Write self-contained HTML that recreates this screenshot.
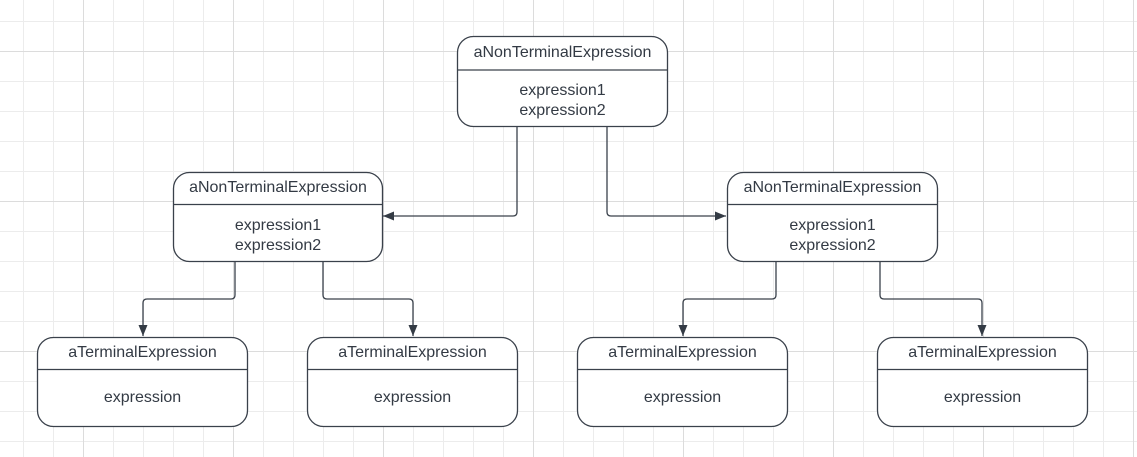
<!DOCTYPE html>
<html><head><meta charset="utf-8"><style>
html,body{margin:0;padding:0;background:#fff;}
svg{display:block;}
text{font-family:"Liberation Sans",sans-serif;font-size:16px;fill:#333a44;text-anchor:middle;}
</style></head><body>
<svg width="1137" height="457" viewBox="0 0 1137 457" xmlns="http://www.w3.org/2000/svg">
<defs>
<pattern id="g" x="23" y="21" width="30" height="30" patternUnits="userSpaceOnUse">
<path d="M0.5 0V30M0 0.5H30" stroke="#ececec" stroke-width="1" fill="none"/>
</pattern>
<pattern id="G" x="83" y="51" width="150" height="150" patternUnits="userSpaceOnUse">
<path d="M0.5 0V150M0 0.5H150" stroke="#dcdcdc" stroke-width="1" fill="none"/>
</pattern>
<marker id="a" markerWidth="12" markerHeight="12" refX="11" refY="6" orient="auto" markerUnits="userSpaceOnUse">
<path d="M0 1.5L11 6L0 10.5Z" fill="#343b45"/>
</marker>
</defs>
<rect width="1137" height="457" fill="url(#g)"/>
<rect width="1137" height="457" fill="url(#G)"/>
<g fill="none" stroke="#3a414b" stroke-width="1.3">
<path d="M517 127V212q0 4-4 4H383" marker-end="url(#a)"/>
<path d="M607 127V212q0 4 4 4H726" marker-end="url(#a)"/>
<path d="M235 262V295q0 4-4 4H147q-4 0-4 4V336" marker-end="url(#a)"/>
<path d="M323 262V295q0 4 4 4H409q4 0 4 4V336" marker-end="url(#a)"/>
<path d="M776 262V295q0 4-4 4H687q-4 0-4 4V336" marker-end="url(#a)"/>
<path d="M880 262V295q0 4 4 4H978q4 0 4 4V336" marker-end="url(#a)"/>
</g>
<g fill="#fff" stroke="#3a414b" stroke-width="1.3">
<rect x="457.5" y="36.5" width="210" height="90" rx="16"/>
<rect x="173.5" y="172.5" width="209" height="89" rx="16"/>
<rect x="727.5" y="172.5" width="210" height="89" rx="16"/>
<rect x="37.5" y="337.5" width="210" height="89" rx="16"/>
<rect x="307.5" y="337.5" width="210" height="89" rx="16"/>
<rect x="577.5" y="337.5" width="210" height="89" rx="16"/>
<rect x="877.5" y="337.5" width="210" height="89" rx="16"/>
</g>
<g stroke="#3a414b" stroke-width="1.3">
<path d="M457.5 70H667.5M173.5 204.5H382.5M727.5 204.5H937.5M37.5 369.5H247.5M307.5 369.5H517.5M577.5 369.5H787.5M877.5 369.5H1087.5"/>
</g>
<text x="562.5" y="57">aNonTerminalExpression</text>
<text x="562.5" y="95">expression1</text>
<text x="562.5" y="115">expression2</text>
<text x="278" y="192">aNonTerminalExpression</text>
<text x="278" y="230">expression1</text>
<text x="278" y="250">expression2</text>
<text x="832.5" y="192">aNonTerminalExpression</text>
<text x="832.5" y="230">expression1</text>
<text x="832.5" y="250">expression2</text>
<text x="142.5" y="357">aTerminalExpression</text>
<text x="142.5" y="402">expression</text>
<text x="412.5" y="357">aTerminalExpression</text>
<text x="412.5" y="402">expression</text>
<text x="682.5" y="357">aTerminalExpression</text>
<text x="682.5" y="402">expression</text>
<text x="982.5" y="357">aTerminalExpression</text>
<text x="982.5" y="402">expression</text>
</svg>
</body></html>
